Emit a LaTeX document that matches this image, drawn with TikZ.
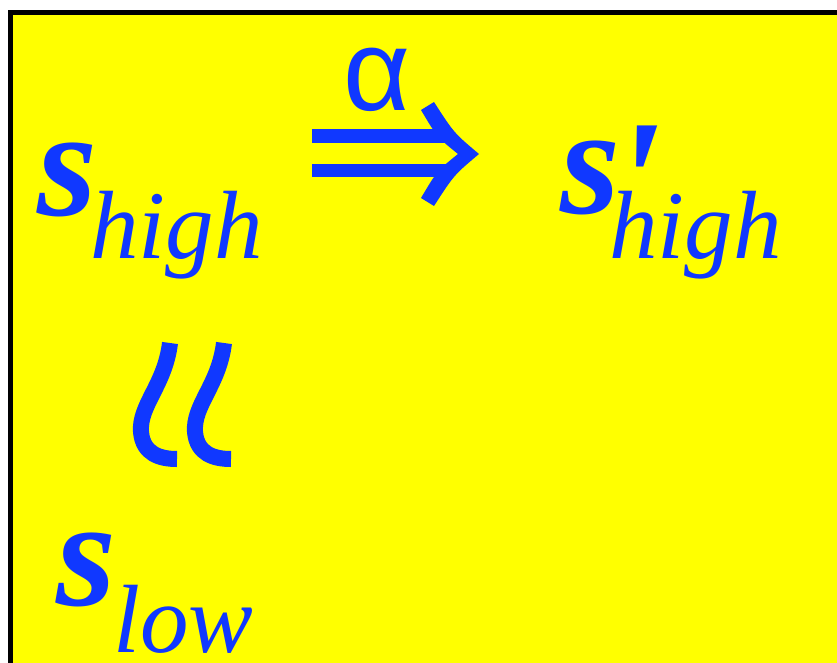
\documentclass[tikz,border=0pt]{standalone}
\usepackage{fontspec}
\newfontfamily\timesfont{Liberation Serif}
\newfontfamily\arialfont{Liberation Sans}
\definecolor{slideyellow}{HTML}{FFFF00}
\definecolor{symblue}{HTML}{1038FF}

\begin{document}
\begin{tikzpicture}[x=1pt,y=-1pt,
  sym/.style={inner sep=0pt,text=symblue,anchor=base west},
  bigs/.style={sym,font=\timesfont\bfseries\itshape\fontsize{154}{154}\selectfont},
  sub/.style={sym,font=\timesfont\itshape\fontsize{97}{97}\selectfont}]
  \useasboundingbox (0,0) rectangle (837,663);
  \fill[slideyellow] (10,12) rectangle (837,663);
  \draw[line width=5pt] (10.5,663) -- (10.5,12.5) -- (837,12.5);
  % s_high
  \node[bigs] (sHigh) at (37,215) {s};
  \node[sub] (sHighSub) at (90,258) {high};
  % s'_high
  \node[bigs] (sPrime) at (560,213) {s};
  \node[sym,font=\timesfont\bfseries\itshape\fontsize{175}{175}\selectfont] (prime) at (612,240) {\char"27};
  \node[sub] (sPrimeSub) at (609,258) {high};
  % the arrow and alpha
  \node[sym,anchor=center,font=\arialfont\fontsize{116}{116}\selectfont] (alpha) at (377,80) {α};
  \fill[symblue] (312,129) rectangle (450,143);
  \fill[symblue] (312,164) rectangle (450,177);
  \fill[symblue] (421,110) -- (434,102) .. controls (454,133) .. (479,154)
    .. controls (454,175) .. (434,206) -- (421,198) .. controls (437,171) .. (458,154)
    .. controls (437,137) .. cycle;
  % the two curved strokes between s_high and s_low
  \foreach \dx in {0,54}
    \draw[symblue,line width=16pt,xshift=\dx] (170,343) .. controls (165,385) and (139,405) .. (141,432)
      .. controls (143,454) and (160,459) .. (177,459);
  % s_low
  \node[bigs] (sLow) at (56,605) {s};
  \node[sub] (sLowSub) at (113,652) {low};
\end{tikzpicture}
\end{document}
